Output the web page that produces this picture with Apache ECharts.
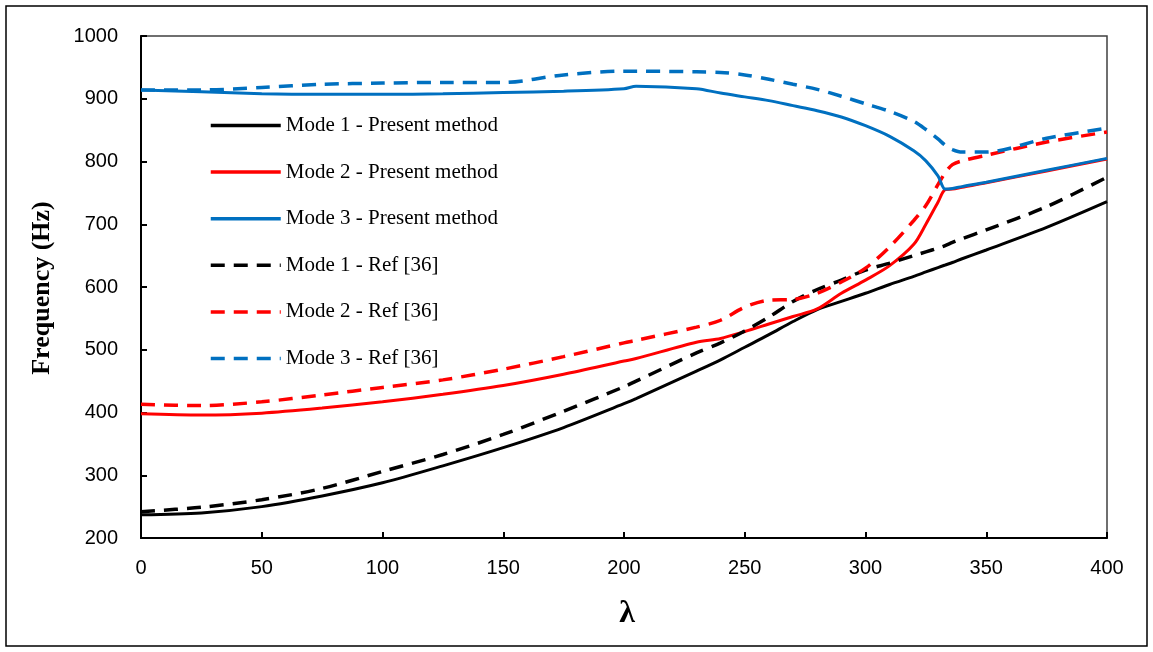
<!DOCTYPE html>
<html>
<head>
<meta charset="utf-8">
<script src="https://cdn.jsdelivr.net/npm/echarts@6/dist/echarts.min.js"></script>
<style>
  html, body { margin: 0; padding: 0; background: #fff; }
  #main { width: 1153px; height: 652px; }
</style>
</head>
<body>
<div id="main"></div>
<script>
// lambda values (x)
var lambda = [0, 25, 50, 75, 100, 125, 150, 175, 200, 205, 230, 240, 250, 260, 270, 280, 290, 300, 310, 320, 325, 330, 333, 336, 340, 350, 375, 400];

// frequencies (Hz)
var mode1Present = [237, 240, 250, 267, 288, 315, 344, 376, 414, 422, 466, 484, 504, 524, 545, 564, 577, 590, 604, 617, 624, 631, 635, 639, 645, 659, 695, 736];
var mode2Present = [398, 396, 399, 407, 417, 429, 443, 461, 482, 486, 512, 518, 529, 541, 553, 565, 590, 611, 634, 668, 700, 735, 755, 756, 759, 766, 785, 804];
var mode3Present = [914, 911, 908, 907, 907, 908, 910, 912, 916, 920, 916, 909, 903, 897, 889, 881, 871, 857, 840, 817, 801, 777, 756, 757, 760, 767, 786, 805];
var mode1Ref = [242, 249, 261, 279, 306, 333, 365, 402, 441, 450, 495, 511, 530, 552, 577, 596, 611, 627, 638, 650, 656, 662, 666, 671, 677, 691, 728, 775];
var mode2Ref = [413, 411, 417, 428, 440, 452, 469, 489, 511, 515, 536, 547, 568, 579, 580, 590, 608, 630, 664, 706, 730, 763, 782, 795, 801, 810, 831, 847];
var mode3Ref = [914, 914, 918, 923, 925, 926, 926, 938, 944, 944, 943, 942, 938, 931, 923, 915, 904, 892, 880, 864, 851, 836, 826, 819, 815, 815, 837, 853];

var legendNames = ['Mode 1 - Present method', 'Mode 2 - Present method', 'Mode 3 - Present method',
  'Mode 1 - Ref [36]', 'Mode 2 - Ref [36]', 'Mode 3 - Ref [36]'];

function pairs(ys) {
  return lambda.map(function (x, i) { return [x, ys[i]]; });
}

var myChart = echarts.init(document.getElementById('main'));

function line(name, ys, color, dashed) {
  return {
    name: name,
    type: 'line',
    data: pairs(ys),
    smooth: 0.3,
    symbol: 'none',
    showSymbol: false,
    lineStyle: {
      color: color,
      width: dashed ? 3.5 : 3,
      type: dashed ? [14, 9] : 'solid'
    },
    itemStyle: { color: color }
  };
}

var option = {
  animation: false,
  backgroundColor: '#fff',
  grid: {
    left: 141,
    top: 36,
    width: 966,
    height: 502,
    show: true,
    borderColor: '#404040',
    borderWidth: 1.5,
    containLabel: false
  },
  legend: {
    orient: 'vertical',
    left: 209,
    top: 115,
    padding: 0,
    itemWidth: 70,
    itemHeight: 14,
    itemGap: 25.6,
    itemStyle: { color: 'rgba(0,0,0,0)', borderWidth: 0 },
    lineStyle: { width: 3.5 },
    textStyle: {
      fontFamily: 'Liberation Serif',
      fontSize: 21,
      color: '#000'
    },
    data: legendNames
  },
  xAxis: {
    type: 'value',
    min: 0,
    max: 400,
    interval: 50,
    axisLine: { onZero: false, lineStyle: { color: '#000', width: 2 } },
    axisTick: { inside: true, length: 6, lineStyle: { color: '#000', width: 2 } },
    axisLabel: {
      margin: 20,
      fontFamily: 'Liberation Sans',
      fontSize: 20,
      color: '#000',
      formatter: function (v) { return String(v); }
    },
    splitLine: { show: false }
  },
  yAxis: {
    type: 'value',
    min: 200,
    max: 1000,
    interval: 100,
    axisLine: { onZero: false, lineStyle: { color: '#000', width: 2 } },
    axisTick: { show: true, inside: true, length: 6, lineStyle: { color: '#000', width: 2 } },
    axisLabel: {
      margin: 23,
      fontFamily: 'Liberation Sans',
      fontSize: 20,
      color: '#000',
      formatter: function (v) { return String(v); }
    },
    splitLine: { show: false }
  },
  graphic: [
    {
      type: 'rect',
      shape: { x: 6, y: 6, width: 1141, height: 640 },
      style: { fill: 'none', stroke: '#000', lineWidth: 1.5 },
      silent: true
    },
    {
      type: 'text',
      x: 42,
      y: 288,
      rotation: Math.PI / 2,
      style: {
        text: 'Frequency (Hz)',
        fontFamily: 'Liberation Serif',
        fontWeight: 'bold',
        fontSize: 26,
        fill: '#000',
        align: 'center',
        verticalAlign: 'middle'
      }
    },
    {
      type: 'text',
      x: 627,
      y: 614,
      style: {
        text: 'λ',
        fontFamily: 'Liberation Serif',
        fontWeight: 'bold',
        fontSize: 32,
        fill: '#000',
        align: 'center',
        verticalAlign: 'middle'
      }
    }
  ],
  series: [
    line('Mode 1 - Present method', mode1Present, '#000000', false),
    line('Mode 2 - Present method', mode2Present, '#FF0000', false),
    line('Mode 1 - Ref [36]', mode1Ref, '#000000', true),
    line('Mode 2 - Ref [36]', mode2Ref, '#FF0000', true),
    line('Mode 3 - Ref [36]', mode3Ref, '#0070C0', true),
    line('Mode 3 - Present method', mode3Present, '#0070C0', false)
  ]
};

myChart.setOption(option);
</script>
</body>
</html>
